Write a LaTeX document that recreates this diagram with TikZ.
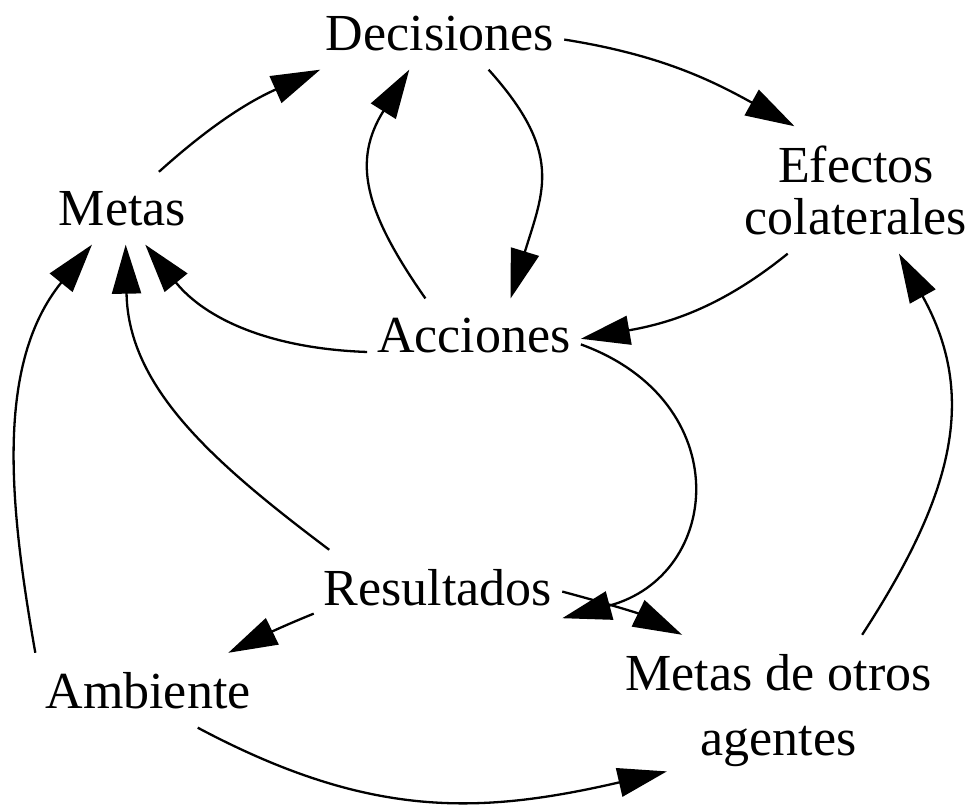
\documentclass[tikz,border=0pt]{standalone}
\usepackage{fontspec}
\setmainfont{Liberation Serif}
\usetikzlibrary{arrows.meta}

\begin{document}
\begin{tikzpicture} [
		x=0.5pt, y=-0.5pt,
		>={Triangle[length=24.5pt, width=14.5pt]},
		line width=1.15pt,
		lbl/.style={font=\fontsize{26}{26}\selectfont, align=center, anchor=base, inner xsep=4.5pt, inner ysep=9pt}
	]

\useasboundingbox (0,0) rectangle (972,811);

\node (dec) [lbl] at (440,50) {Decisiones};
\node (met) [lbl] at (122.5,225) {Metas};
\node (eff) [lbl] at (856,234) {Efectos\\colaterales};
\node (acc) [lbl] at (474,352) {Acciones};
\node (res) [lbl] at (438,605) {Resultados};
\node (amb) [lbl] at (148,708) {Ambiente};
\node (mdo) [lbl, font=\fontsize{26}{32.5}\selectfont] at (778.5,755) {Metas de otros\\agentes};

\path[->]
	(met.45)  edge [out=42, in=204] (dec.197)
	(dec.-3)  edge [out=-9, in=151] (eff.134)
	(acc.143) edge [out=125, in=238, looseness=1.2] (dec.230)
	(dec.-37) edge [out=-48, in=73, looseness=1.25] (acc.45)
	(eff.223) edge [out=219, in=10] (acc.-2)
	(acc.189) edge [out=178, in=-51] (met.-58)
	(acc.-5)  edge [out=-20, in=15, looseness=1.55] (res.-14)
	(res.161) edge [out=143, in=-89] (met.-85)
	(amb.north west) edge [out=100, in=231, looseness=0.95] (met.230)
	(res.192) edge [out=202, in=26] (amb.25)
	(res.-2)  edge [out=-15, in=154] (mdo.142)
	(amb.-37) edge [out=-28, in=193, looseness=1.05] ([yshift=7pt]mdo.214)
	(mdo.42)  edge [out=57, in=-61, looseness=1.1] (eff.-56);
\end{tikzpicture}
\end{document}
